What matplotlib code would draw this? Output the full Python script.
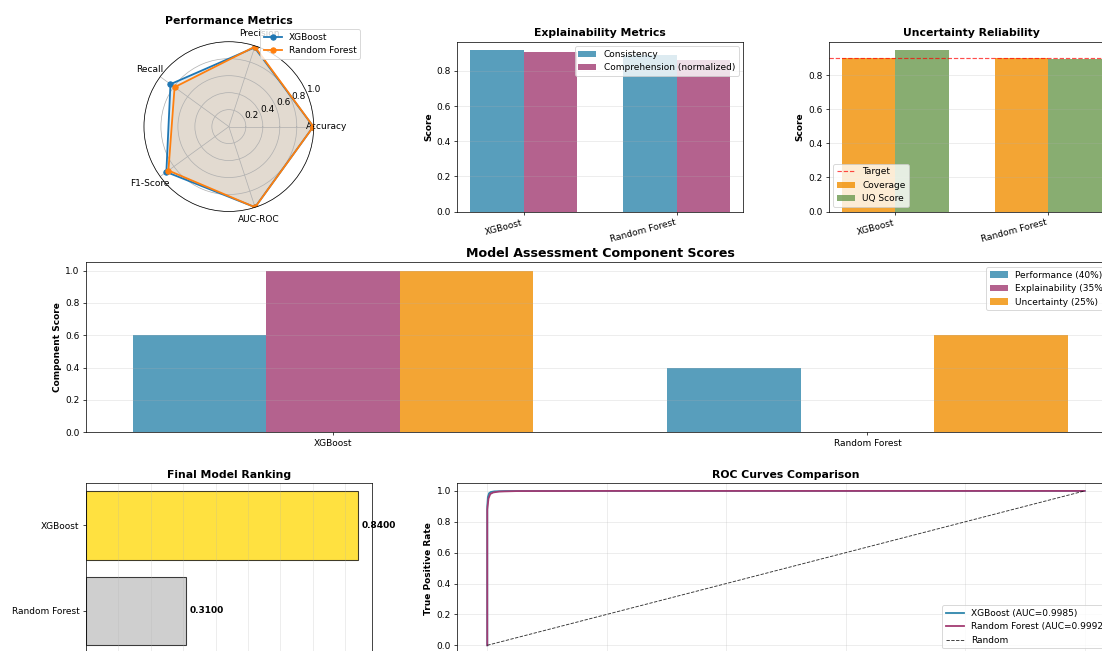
import matplotlib
matplotlib.use('Agg')
import matplotlib.pyplot as plt
from matplotlib.gridspec import GridSpec
import numpy as np

models = ['XGBoost', 'Random Forest']

# radar metrics
perf_labels = ['Accuracy', 'Precision', 'Recall', 'F1-Score', 'AUC-ROC']
xgb_perf = [0.995, 0.98, 0.85, 0.91, 0.9985]
rf_perf = [0.995, 0.99, 0.79, 0.88, 0.9992]

# explainability
consistency = [0.92, 0.89]
comprehension = [0.905, 0.86]

# uncertainty
coverage = [0.90, 0.90]
uq_score = [0.95, 0.898]
target_coverage = 0.9

# weighted components
perf_component = [0.6, 0.4]
expl_component = [1.0, 0.0]
unc_component = [1.0, 0.6]

final_scores = [0.84, 0.31]

# roc points
auc_scores = [0.9985, 0.9992]
xgb_fpr = [0.0, 0.0, 0.001, 0.003, 0.006, 0.012, 0.03, 0.2, 1.0]
xgb_tpr = [0.0, 0.90, 0.96, 0.985, 0.993, 0.997, 0.999, 1.0, 1.0]
rf_fpr = [0.0, 0.0, 0.002, 0.005, 0.01, 0.02, 0.05, 0.2, 1.0]
rf_tpr = [0.0, 0.88, 0.95, 0.98, 0.99, 0.996, 0.999, 1.0, 1.0]

colors = {'blue': '#2E86AB', 'purple': '#A23B72', 'orange': '#F18F01', 'green': '#6A994E'}

DPI = 65
fig = plt.figure(figsize=(1102 / DPI, 651 / DPI), dpi=DPI)
gs = GridSpec(3, 3, figure=fig, left=86 / 1102, right=1114.5 / 1102,
              top=1 - 41.7 / 651, bottom=1 - 653 / 651, wspace=0.3, hspace=0.3)

# 1. radar of performance metrics
ax1 = fig.add_subplot(gs[0, 0], projection='polar')
angles = np.linspace(0, 2 * np.pi, len(perf_labels), endpoint=False).tolist()
angles += angles[:1]
for name, vals in zip(models, [xgb_perf, rf_perf]):
    v = list(vals) + [vals[0]]
    ax1.plot(angles, v, 'o-', linewidth=2, label=name)
    ax1.fill(angles, v, alpha=0.15)
ax1.set_xticks(angles[:-1])
ax1.set_xticklabels(perf_labels)
ax1.set_ylim(0, 1)
ax1.set_title('Performance Metrics', fontsize=12, fontweight='bold')
ax1.legend(loc='upper right', bbox_to_anchor=(1.3, 1.1))

x = np.arange(len(models))

# 2. explainability
ax2 = fig.add_subplot(gs[0, 1])
w = 0.35
ax2.bar(x - w / 2, consistency, w, label='Consistency', color=colors['blue'], alpha=0.8)
ax2.bar(x + w / 2, comprehension, w, label='Comprehension (normalized)', color=colors['purple'], alpha=0.8)
ax2.set_xticks(x)
ax2.set_xticklabels(models, rotation=15, ha='right')
ax2.set_ylabel('Score', fontweight='bold')
ax2.set_title('Explainability Metrics', fontsize=12, fontweight='bold')
ax2.legend(loc='upper right')
ax2.grid(axis='y', alpha=0.3)

# 3. uncertainty
ax3 = fig.add_subplot(gs[0, 2])
ax3.bar(x - w / 2, coverage, w, label='Coverage', color=colors['orange'], alpha=0.8)
ax3.bar(x + w / 2, uq_score, w, label='UQ Score', color=colors['green'], alpha=0.8)
ax3.axhline(y=target_coverage, color='red', linestyle='--', linewidth=1.3, alpha=0.7, label='Target')
ax3.set_xticks(x)
ax3.set_xticklabels(models, rotation=15, ha='right')
ax3.set_ylabel('Score', fontweight='bold')
ax3.set_title('Uncertainty Reliability', fontsize=12, fontweight='bold')
ax3.legend(loc='lower left')
ax3.grid(axis='y', alpha=0.3)

# 4. component scores
ax4 = fig.add_subplot(gs[1, :])
w = 0.25
ax4.bar(x - w, perf_component, w, label='Performance (40%)', color=colors['blue'], alpha=0.8)
ax4.bar(x, expl_component, w, label='Explainability (35%)', color=colors['purple'], alpha=0.8)
ax4.bar(x + w, unc_component, w, label='Uncertainty (25%)', color=colors['orange'], alpha=0.8)
ax4.set_xticks(x)
ax4.set_xticklabels(models)
ax4.set_ylabel('Component Score', fontweight='bold')
ax4.set_title('Model Assessment Component Scores', fontsize=14, fontweight='bold')
ax4.legend(loc='upper right')
ax4.grid(axis='y', alpha=0.3)

# 5. final ranking
ax5 = fig.add_subplot(gs[2, 0])
y = np.arange(len(models))
ax5.barh(y, final_scores, color=['gold', 'silver'], alpha=0.75, edgecolor='black', linewidth=1.2)
ax5.set_yticks(y)
ax5.set_yticklabels(models)
ax5.invert_yaxis()
for i, s in enumerate(final_scores):
    ax5.text(s + 0.01, i, f'{s:.4f}', va='center', fontweight='bold')
ax5.set_title('Final Model Ranking', fontsize=12, fontweight='bold')
ax5.grid(axis='x', alpha=0.3)

# 6. roc curves
ax6 = fig.add_subplot(gs[2, 1:])
ax6.plot(xgb_fpr, xgb_tpr, color=colors['blue'], linewidth=2, label=f'XGBoost (AUC={auc_scores[0]:.4f})')
ax6.plot(rf_fpr, rf_tpr, color=colors['purple'], linewidth=2, label=f'Random Forest (AUC={auc_scores[1]:.4f})')
ax6.plot([0, 1], [0, 1], 'k--', linewidth=1, alpha=0.8, label='Random')
ax6.set_ylabel('True Positive Rate', fontweight='bold')
ax6.set_xlabel('False Positive Rate', fontweight='bold')
ax6.set_title('ROC Curves Comparison', fontsize=12, fontweight='bold')
ax6.legend(loc='lower right')
ax6.grid(alpha=0.3)

fig.savefig('out.png', dpi=DPI)
